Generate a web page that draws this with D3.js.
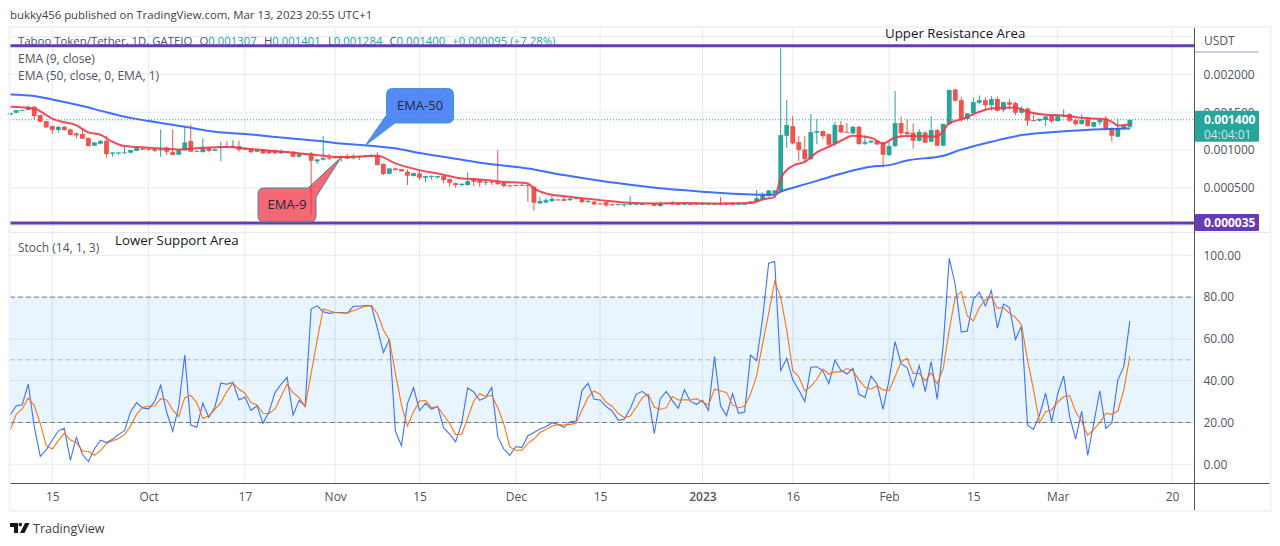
<!DOCTYPE html>
<html>
<head>
<meta charset="utf-8">
<script src="https://cdn.jsdelivr.net/npm/d3@7"></script>
<style>
  html, body { margin: 0; padding: 0; background: #fff; overflow: hidden; }
  text { font-family: "Open Sans", sans-serif; }
</style>
</head>
<body>
<div id="chart"></div>
<script>
// daily bars from 8 Sep 2022, prices in millionths of a USDT
const firstDay = new Date(Date.UTC(2022, 8, 8));

const opens = [1462,1493,1525,1528,1572,1462,1383,1317,1263,1308,1272,1220,1211,1158,1056,1083,1122,950,959,962,
  964,990,1020,1016,1012,995,1034,972,937,995,1118,990,972,1030,990,1038,1052,1038,1052,1008,
  1012,977,1003,990,999,955,973,977,911,937,955,849,871,898,906,919,919,889,906,915,
  920,928,814,686,756,747,712,655,690,633,642,637,655,615,562,536,536,611,602,567,
  580,584,567,531,536,540,536,514,293,306,324,346,350,337,355,350,311,315,293,311,
  284,276,276,276,276,280,295,293,258,298,302,293,276,285,293,276,276,276,293,293,
  298,280,285,290,315,346,390,425,448,1188,1316,1105,1008,880,1228,1250,1210,1087,1330,1241,
  1219,1307,1083,1100,1122,1096,932,1052,1356,1237,1228,1122,1232,1109,1263,1056,1343,1800,1660,1409,
  1484,1625,1660,1594,1674,1528,1630,1621,1493,1550,1395,1387,1396,1457,1382,1440,1475,1396,1343,1404,
  1307,1365,1418,1290,1175,1285,1307];
const highs = [1495,1530,1532,1590,1580,1470,1385,1325,1320,1320,1285,1228,1285,1165,1100,1130,1185,968,968,1061,
  1000,1035,1035,1025,1020,1272,1045,1272,1005,1308,1338,995,1153,1040,1020,1109,1118,1131,1122,1020,
  1020,1008,1008,1000,1005,1005,985,985,955,955,975,880,1185,950,915,925,946,946,925,935,
  945,970,825,760,760,752,743,700,734,660,665,660,665,625,570,560,708,625,620,605,
  598,999,575,540,545,550,556,525,382,365,404,355,390,370,372,370,345,325,300,320,
  290,288,288,390,300,295,305,300,320,305,324,300,298,295,300,298,295,295,377,305,
  310,295,292,325,470,440,470,470,2344,1660,1449,1184,1184,1475,1409,1260,1220,1374,1382,1360,
  1320,1320,1197,1125,1135,1105,1105,1779,1440,1405,1352,1276,1250,1449,1280,1350,1800,1810,1696,1490,
  1696,1722,1696,1713,1705,1640,1670,1640,1580,1560,1462,1415,1450,1470,1460,1537,1485,1415,1470,1431,
  1375,1430,1449,1300,1418,1330,1401];
const lows = [1455,1480,1520,1525,1396,1365,1290,1210,1228,1255,1195,1153,1145,1050,1050,1075,898,911,933,955,
  955,985,1000,990,972,911,933,930,930,990,975,975,965,975,985,853,1030,1030,977,1000,
  955,970,950,950,950,950,968,908,900,930,139,814,860,867,885,845,880,875,867,905,
  910,800,668,680,730,715,536,650,602,571,610,625,558,514,500,525,525,523,514,535,
  536,540,505,515,520,525,315,196,285,293,311,330,325,325,345,293,300,267,280,245,
  258,270,245,270,270,272,285,255,250,285,280,270,270,275,270,272,270,270,270,270,
  270,272,278,285,305,335,385,420,440,1030,1075,853,840,870,1078,1140,1052,1056,1225,1225,
  1210,1069,1065,1090,1065,769,925,1040,1166,1200,1017,1110,1090,1100,1052,1050,1330,1640,1374,1390,
  1470,1610,1528,1519,1510,1505,1540,1462,1480,1320,1380,1375,1316,1360,1375,1430,1370,1320,1335,1310,
  1300,1330,1260,1110,1170,1278,1284];
const closes = [1490,1528,1530,1572,1449,1374,1299,1263,1308,1263,1198,1193,1149,1052,1100,1122,946,968,968,968,
  999,1026,1003,1003,990,1012,977,933,999,1100,977,982,1034,986,1012,1052,1038,1056,1003,1017,
  972,1003,955,955,955,990,981,911,950,950,858,875,893,885,893,893,885,911,915,928,
  933,800,682,756,734,717,660,695,633,655,655,655,602,567,536,553,589,580,567,580,
  567,549,523,518,523,527,523,302,324,337,355,337,328,359,368,311,328,280,284,267,
  271,284,284,293,293,285,290,262,293,289,280,271,289,280,276,289,289,289,276,276,
  276,289,288,320,364,412,465,465,1197,1330,1087,999,880,1237,1250,1184,1069,1330,1232,1228,
  1307,1078,1109,1122,1074,937,1052,1356,1219,1210,1122,1241,1096,1263,1056,1343,1793,1652,1405,1484,
  1634,1660,1590,1674,1519,1634,1599,1493,1550,1387,1387,1413,1444,1378,1449,1453,1387,1343,1400,1316,
  1369,1396,1272,1188,1290,1325,1400];

const ema9Bars = [0,4,6,7,11,13,15,17,19,23,28,32,36,40,45,50,55,61,64,68,71,75,78,82,86,87,89,93,98,102,107,112,118,123,125,127,128,130,132,134,136,138,140,143,145,147,149,154,156,158,161,163,167,169,172,175,178,182,183,184,186];
const ema9Values = [1572,1550,1462,1414,1326,1233,1202,1109,1052,1030,1008,1030,1039,1012,977,942,906,924,823,734,690,624,611,580,558,492,425,381,337,306,293,298,293,298,346,381,624,792,844,968,1043,1122,1188,1162,1087,1166,1184,1180,1352,1405,1506,1550,1563,1506,1466,1457,1427,1405,1374,1325,1342];

const ema50Bars = [0,4,7,12,16,20,23,29,34,40,45,51,56,59,65,68,74,79,86,92,98,104,109,115,121,125,127,128,130,132,136,140,143,146,149,155,158,163,168,174,180,186];
const ema50Values = [1735,1714,1669,1581,1500,1425,1383,1308,1241,1206,1166,1122,1078,1061,1008,960,884,822,756,668,593,531,487,448,417,408,408,450,500,545,640,730,778,800,862,924,1005,1109,1197,1241,1272,1285];

const stochK = [23.6,27.9,28.5,38.4,18,3.8,6.9,11.6,16,17.2,1.9,12.9,4.8,1.3,7.3,11.5,10.4,12,14.2,16.1,
  25.2,29.5,27,26.5,30,37.8,24.9,15.8,27.6,52.3,18.8,17.7,29.2,22.5,27.3,38.8,38.3,39.2,30.8,32.2,
  25.8,28,19.6,25.2,34.3,38.3,41.6,23.6,30.6,27.9,74.3,75.8,73,72.2,72.6,72.6,72.2,75.6,75.6,75.9,
  75.9,65,53.4,59.8,15.8,8.9,29.2,36.7,25.7,29.2,26.3,27.8,17.5,14.4,10.7,19.6,36.5,34.6,30.6,31.9,
  36.8,13.2,7.3,4.3,8.5,8,13.7,15.2,16.9,18,19.9,19.1,17.7,20.4,20.6,35.4,38.8,31.1,30.8,27.6,
  25.5,21,21.5,26.6,33.5,34.9,32.4,14.8,31.4,34.9,30.5,26.8,35.7,30.1,28.7,30.6,25.8,51.5,28,23.3,
  33.8,24.4,25,52.2,49.6,69.9,96.2,97.1,44.8,50.7,40.4,35.6,30,46.4,46.7,44.7,38.6,49.8,45,43.2,
  45.9,33.5,32,42.3,38.4,26.3,40.4,58.7,48,46.3,37.2,47.2,34.8,49.1,31.1,57,98.6,85.8,63.3,63.8,
  78.9,82.3,75.8,83.1,65.1,76.7,75,59.8,66.2,18.7,16.7,23.6,34,20.4,33.5,42.3,22.8,12,25.4,4.3,
  19.6,35.2,17.2,19.6,40.4,46.7,68.6];
const stochD = [16.4,23.9,26.5,31.7,28.1,19.6,8.9,7.3,11.3,14.8,11.6,10.5,6.4,6.1,4.3,6.5,9.9,11.3,12.3,14.2,
  18.3,23.9,27.3,27.8,27.9,31.4,30.8,26,22.8,31.9,33,29.5,21.9,23.1,26.3,29.5,34.8,38.8,36,34,
  29.5,28.4,24.4,24.2,26.5,32.4,38.3,34.3,31.9,27.6,43.5,59.5,74.3,73.5,72.6,72.4,72.4,73.5,74.5,75.6,
  75.9,72.2,64.3,59.5,43.5,28.4,18.3,25.2,30.3,30.5,27,27.6,23.6,19.6,14.2,14.4,22,30.3,33.8,32.4,
  33,27.1,19.3,8.3,6.7,6.7,10,12.1,15.2,16.6,18.3,19,18.8,19.1,19.6,26,32,35.1,33.5,29.7,
  27.8,24.4,22.3,23.1,27.3,31.9,33.5,27.3,26.2,27.1,32.4,30.8,30.9,30.8,31.4,29.8,28.4,35.9,35.2,34.3,
  28.4,27.1,27.8,33.7,42.3,57.9,72.2,87.6,79.9,64.3,44.8,41.9,35.1,37.2,40.7,45.6,43.2,44.2,44.2,45.8,
  44.8,40.4,36.8,35.9,37.6,35.6,35.2,41.9,49,50.7,43.5,43.5,39.9,43.7,38.4,45.9,64.3,80.2,82.6,71,
  68.6,75,78.6,80.2,74.6,75,72.2,70.3,66.7,49.9,35.6,19.9,25.2,26,29.7,32.4,32.9,25.2,20.4,13.9,
  16.7,19.9,24.4,23.9,25.5,35.6,51.8];

const timeTicks = [[2022,8,15],[2022,9,1],[2022,9,17],[2022,10,1],[2022,10,15],[2022,11,1],[2022,11,15],[2023,0,1],[2023,0,16],[2023,1,1],[2023,1,15],[2023,2,1],[2023,2,20]];
const timeLabels = ["15","Oct","17","Nov","15","Dec","15","2023","16","Feb","15","Mar","20"];
const priceTicks = [500,1000,1500,2000];
const priceGrid = [500,1000,1500,2000,2500,0];
const stochTicks = [0,20,40,60,80,100];

const lastPrice = 1400;
const upperLevel = 2380;
const lowerLevel = 35;

var width = 1280;
var height = 546;

const left = 10, axisX = 1194.5, right = 1270, bottomY = 483.5, frameTop = 27, frameBottom = 511;

var svg = d3.select("#chart")
  .append("svg")
  .attr("width", width)
  .attr("height", height);

const dayDate = i => d3.utcDay.offset(firstDay, i);
const tickDates = timeTicks.map(d => new Date(Date.UTC(d[0], d[1], d[2])));

const x = d3.scaleUtc()
  .domain([tickDates[0], tickDates[tickDates.length - 1]])
  .range([52.3, 1172]);
const yPrice = d3.scaleLinear().domain([0, 2500]).range([225.6, 36.6]);
const yStoch = d3.scaleLinear().domain([0, 100]).range([464.3, 255.3]);

const fmtPrice = v => (v / 1e6).toFixed(6);
const gridColor = "#e3ecf3";
const textColor = "#50535e";

// grid
tickDates.forEach(d => {
  svg.append("line").attr("x1", x(d)).attr("x2", x(d)).attr("y1", frameTop).attr("y2", bottomY)
    .attr("stroke", gridColor).attr("stroke-width", 1);
});
priceGrid.forEach(v => {
  svg.append("line").attr("x1", left).attr("x2", axisX).attr("y1", yPrice(v)).attr("y2", yPrice(v))
    .attr("stroke", gridColor);
});
stochTicks.forEach(v => {
  svg.append("line").attr("x1", left).attr("x2", axisX).attr("y1", yStoch(v)).attr("y2", yStoch(v))
    .attr("stroke", gridColor);
});
// pane separator
svg.append("line").attr("x1", left).attr("x2", right).attr("y1", 232.3).attr("y2", 232.3).attr("stroke", "#e0e3eb");

// legend sits under the level line
const legend = svg.append("text").attr("x", 18).attr("y", 45).attr("font-size", 11.4).attr("fill", textColor);
legend.append("tspan").text("Taboo Token/Tether, 1D, GATEIO");
[["O", "0.001307"], ["H", "0.001401"], ["L", "0.001284"], ["C", "0.001400"]].forEach(p => {
  legend.append("tspan").attr("dx", 7).text(p[0]);
  legend.append("tspan").attr("fill", "#26a69a").text(p[1]);
});
legend.append("tspan").attr("dx", 7).attr("fill", "#26a69a").text("+0.000095 (+7.28%)");

svg.append("text").attr("x", 18).attr("y", 63).attr("font-size", 12).attr("fill", textColor).text("EMA (9, close)");
svg.append("text").attr("x", 18).attr("y", 80).attr("font-size", 12).attr("fill", textColor).text("EMA (50, close, 0, EMA, 1)");
svg.append("text").attr("x", 18).attr("y", 252).attr("font-size", 12).attr("fill", textColor).text("Stoch (14, 1, 3)");

// last price line
svg.append("line").attr("x1", left).attr("x2", axisX).attr("y1", yPrice(lastPrice)).attr("y2", yPrice(lastPrice))
  .attr("stroke", "#26a69a").attr("stroke-dasharray", "1 2");

// candles
const upColor = "#26a69a", downColor = "#ef5350";
const bars = d3.range(opens.length);
svg.append("g").selectAll("line").data(bars).join("line")
  .attr("x1", i => x(dayDate(i))).attr("x2", i => x(dayDate(i)))
  .attr("y1", i => yPrice(highs[i])).attr("y2", i => yPrice(lows[i]))
  .attr("stroke", i => closes[i] >= opens[i] ? upColor : downColor);
svg.append("g").selectAll("rect").data(bars).join("rect")
  .attr("x", i => x(dayDate(i)) - 2.4).attr("width", 4.8)
  .attr("y", i => yPrice(Math.max(opens[i], closes[i])))
  .attr("height", i => Math.max(1, Math.abs(yPrice(opens[i]) - yPrice(closes[i]))))
  .attr("fill", i => closes[i] >= opens[i] ? upColor : downColor);

// EMA lines
const emaLine = d3.line()
  .x(b => x(dayDate(b[0])))
  .y(b => yPrice(b[1]))
  .curve(d3.curveMonotoneX);
svg.append("path").attr("d", emaLine(d3.zip(ema50Bars, ema50Values)))
  .attr("fill", "none").attr("stroke", "#2962ff").attr("stroke-width", 2).attr("opacity", 0.9);
svg.append("path").attr("d", emaLine(d3.zip(ema9Bars, ema9Values)))
  .attr("fill", "none").attr("stroke", "#f23645").attr("stroke-width", 2).attr("opacity", 0.9);

// resistance and support levels
[upperLevel, lowerLevel].forEach(v => {
  svg.append("line").attr("x1", left).attr("x2", axisX).attr("y1", yPrice(v)).attr("y2", yPrice(v))
    .attr("stroke", "#673ab7").attr("stroke-width", 3);
});
svg.append("text").attr("x", 885).attr("y", 38).attr("font-size", 13.3).attr("fill", "#131722").text("Upper Resistance Area");
svg.append("text").attr("x", 115).attr("y", 245).attr("font-size", 13.3).attr("fill", "#131722").text("Lower Support Area");

// stoch band and levels
svg.append("rect").attr("x", left).attr("width", axisX - left)
  .attr("y", yStoch(80)).attr("height", yStoch(20) - yStoch(80))
  .attr("fill", "#2196f3").attr("fill-opacity", 0.1);
[[80, "#787b86"], [50, "#b2b5be"], [20, "#787b86"]].forEach(l => {
  svg.append("line").attr("x1", left).attr("x2", axisX).attr("y1", yStoch(l[0])).attr("y2", yStoch(l[0]))
    .attr("stroke", l[1]).attr("stroke-dasharray", "5 3");
});
const stochLine = d3.line().x((v, i) => x(dayDate(i))).y(v => yStoch(v));
svg.append("path").attr("d", stochLine(stochK)).attr("fill", "none").attr("stroke", "#2962ff").attr("stroke-opacity", 0.9).attr("stroke-width", 1.1);
svg.append("path").attr("d", stochLine(stochD)).attr("fill", "none").attr("stroke", "#ff6d00").attr("stroke-opacity", 0.95).attr("stroke-width", 1.1);

// callouts
const tip50 = [x(dayDate(59)), yPrice(1061)];
const tip9 = [x(dayDate(55)), yPrice(906)];
const r = 6;
let p50 = d3.path();
p50.moveTo(386.5 + r, 88.5);
p50.lineTo(453.5 - r, 88.5); p50.quadraticCurveTo(453.5, 88.5, 453.5, 88.5 + r);
p50.lineTo(453.5, 123 - r); p50.quadraticCurveTo(453.5, 123, 453.5 - r, 123);
p50.lineTo(395, 123); p50.lineTo(tip50[0], tip50[1]); p50.lineTo(386.5, 115);
p50.lineTo(386.5, 88.5 + r); p50.quadraticCurveTo(386.5, 88.5, 386.5 + r, 88.5); p50.closePath();
svg.append("path").attr("d", p50.toString()).attr("fill", "#3d7af5").attr("fill-opacity", 0.88)
  .attr("stroke", "#3b9cc0").attr("stroke-width", 1);
svg.append("text").attr("x", 420).attr("y", 110).attr("text-anchor", "middle").attr("font-size", 13).attr("fill", "#23293a").text("EMA-50");

let p9 = d3.path();
p9.moveTo(258 + r, 188);
p9.lineTo(308, 188); p9.lineTo(tip9[0], tip9[1]); p9.lineTo(316, 197);
p9.lineTo(316, 222 - r); p9.quadraticCurveTo(316, 222, 316 - r, 222);
p9.lineTo(258 + r, 222); p9.quadraticCurveTo(258, 222, 258, 222 - r);
p9.lineTo(258, 188 + r); p9.quadraticCurveTo(258, 188, 258 + r, 188); p9.closePath();
svg.append("path").attr("d", p9.toString()).attr("fill", "#f23645").attr("fill-opacity", 0.75)
  .attr("stroke", "#3b8f9c").attr("stroke-width", 1);
svg.append("text").attr("x", 287).attr("y", 209).attr("text-anchor", "middle").attr("font-size", 13).attr("fill", "#23293a").text("EMA-9");

// axes
const styleAxis = g => {
  g.select(".domain").remove();
  g.selectAll("text").attr("font-size", 12).attr("fill", textColor).style("font-family", '"Open Sans", sans-serif');
};
svg.append("g").attr("transform", `translate(${axisX},0)`)
  .call(d3.axisRight(yPrice).tickValues(priceTicks).tickSize(0).tickPadding(9).tickFormat(fmtPrice))
  .call(styleAxis);
svg.append("g").attr("transform", `translate(${axisX},0)`)
  .call(d3.axisRight(yStoch).tickValues(stochTicks).tickSize(0).tickPadding(9).tickFormat(d3.format(".2f")))
  .call(styleAxis);
svg.append("g").attr("transform", `translate(0,${bottomY})`)
  .call(d3.axisBottom(x).tickValues(tickDates).tickSize(0).tickPadding(9).tickFormat((d, i) => timeLabels[i]))
  .call(styleAxis)
  .selectAll("text").attr("font-weight", (d, i) => timeLabels[i] === "2023" ? 600 : 400);

svg.append("text").attr("x", 1204).attr("y", 45).attr("font-size", 12).attr("fill", textColor).text("USDT");
svg.append("rect").attr("x", axisX).attr("y", 51).attr("width", 64).attr("height", 2).attr("fill", "#d3c6ea");

// axis tags
const tagX = axisX + 0.5, tagW = 64;
svg.append("rect").attr("x", tagX).attr("y", 110.7).attr("width", tagW).attr("height", 31).attr("rx", 1).attr("fill", "#26a69a");
svg.append("text").attr("x", tagX + 9).attr("y", 123.5).attr("font-size", 12).attr("font-weight", 700).attr("fill", "#fff").text(fmtPrice(lastPrice));
svg.append("text").attr("x", tagX + 9).attr("y", 138.5).attr("font-size", 12).attr("fill", "#c9e9e5").text("04:04:01");
svg.append("rect").attr("x", tagX).attr("y", 214).attr("width", tagW).attr("height", 17).attr("rx", 1).attr("fill", "#673ab7");
svg.append("text").attr("x", tagX + 9).attr("y", 227).attr("font-size", 12).attr("font-weight", 700).attr("fill", "#fff").text(fmtPrice(lowerLevel));

// frame and axis lines
svg.append("line").attr("x1", left).attr("x2", right).attr("y1", bottomY).attr("y2", bottomY).attr("stroke", "#50535e");
svg.append("line").attr("x1", axisX).attr("x2", axisX).attr("y1", frameTop).attr("y2", frameBottom).attr("stroke", "#50535e");
svg.append("rect").attr("x", 9.5).attr("y", 27).attr("width", 1261).attr("height", 484)
  .attr("fill", "none").attr("stroke", "#eff2f8").attr("stroke-width", 2);

// header and footer
svg.append("text").attr("x", 10).attr("y", 19).attr("font-size", 11.4).attr("fill", "#3a3e4a")
  .text("bukky456 published on TradingView.com, Mar 13, 2023 20:55 UTC+1");
svg.append("path").attr("fill", "#131722")
  .attr("d", "M10 523h8v10h-4v-6h-4z M18.5 524.6a1.8 1.8 0 1 0 3.6 0a1.8 1.8 0 1 0 -3.6 0z M25 523h4.5l-5 10h-4.5z");
svg.append("text").attr("x", 33).attr("y", 533).attr("font-size", 12.5).attr("fill", "#3a3e4a").text("TradingView");
</script>
</body>
</html>
